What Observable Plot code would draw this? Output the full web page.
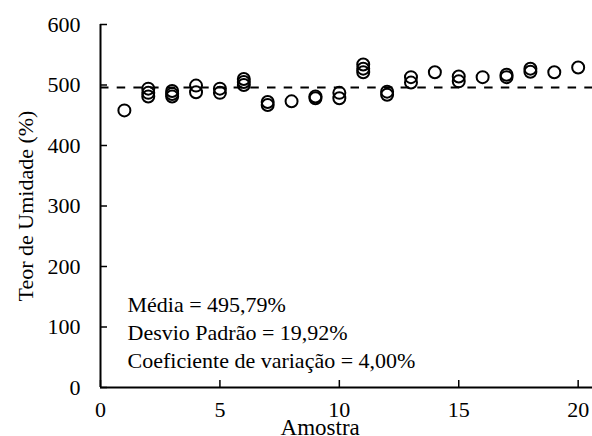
<!DOCTYPE html>
<html>
<head>
<meta charset="utf-8">
<script src="https://cdn.jsdelivr.net/npm/d3@7"></script>
<script src="https://cdn.jsdelivr.net/npm/@observablehq/plot@0.6"></script>
<style>
  html, body { margin: 0; padding: 0; background: #fff; }
  svg { display: block; }
  svg, svg text { font-family: "Liberation Serif", "Times New Roman", serif !important; }
</style>
</head>
<body>
<div id="chart"></div>
<script>
// Sample number (Amostra) and measured moisture content (%) for each replicate
const amostra = [1, 2,2,2, 3,3,3, 4,4, 5,5, 6,6,6, 7,7, 8, 9,9, 10,10, 11,11,11, 12,12, 13,13, 14, 15,15, 16, 17,17, 18,18, 19, 20];
const teor    = [458, 494,487,481, 490,485,481, 499,488, 494,487, 510,505,500, 472,467, 473, 481,478, 487,478, 534,527,521, 489,484, 513,504, 521, 514,506, 513, 517,513, 527,522, 521, 529];
const media = 495.79;
const xTicks = [0, 5, 10, 15, 20];
const yTicks = [0, 100, 200, 300, 400, 500, 600];
const statsLines = ["Média = 495,79%", "Desvio Padrão = 19,92%", "Coeficiente de variação = 4,00%"];
const xLabel = "Amostra";
const yLabel = "Teor de Umidade (%)";

const data = amostra.map((a, i) => ({amostra: a, teor: teor[i]}));
const serif = "'Liberation Serif', 'Times New Roman', serif";

const chart = Plot.plot({
  width: 592,
  height: 436,
  marginLeft: 100,
  marginRight: 0,
  marginTop: 24,
  marginBottom: 49,
  style: {fontFamily: serif, fontSize: "22px", color: "#000", background: "#fff"},
  x: {domain: [0, 20.6]},
  y: {domain: [0, 600]},
  marks: [
    Plot.axisY({ticks: yTicks, tickSize: -7, tickPadding: 27, strokeWidth: 1.5, fontSize: 22, fontFamily: serif, label: null}),
    Plot.axisX({ticks: xTicks, tickSize: -7, tickPadding: 21, strokeWidth: 1.5, fontSize: 22, fontFamily: serif, label: null}),
    Plot.ruleY([media], {stroke: "#000", strokeWidth: 2, strokeDasharray: "8.5,8.2"}),
    Plot.dot(data, {x: "amostra", y: "teor", r: 6, stroke: "#000", strokeWidth: 2, fill: "none"}),
    Plot.ruleX([0], {stroke: "#000", strokeWidth: 2}),
    Plot.ruleY([0], {stroke: "#000", strokeWidth: 2}),
    Plot.text([statsLines.join("\n")], {frameAnchor: "bottom-left", dx: 27, dy: -20, textAnchor: "start", lineAnchor: "bottom", lineHeight: 1.26, fontSize: 22, fontFamily: serif, fill: "#000"}),
    Plot.text([xLabel], {x: [9.2], frameAnchor: "bottom", dy: 47, lineAnchor: "bottom", fontSize: 23, fontFamily: serif, fill: "#000"}),
    Plot.text([yLabel], {frameAnchor: "left", dx: -75, rotate: -90, textAnchor: "middle", fontSize: 22, fontFamily: serif, fill: "#000"})
  ]
});
document.getElementById("chart").appendChild(chart);
</script>
</body>
</html>
